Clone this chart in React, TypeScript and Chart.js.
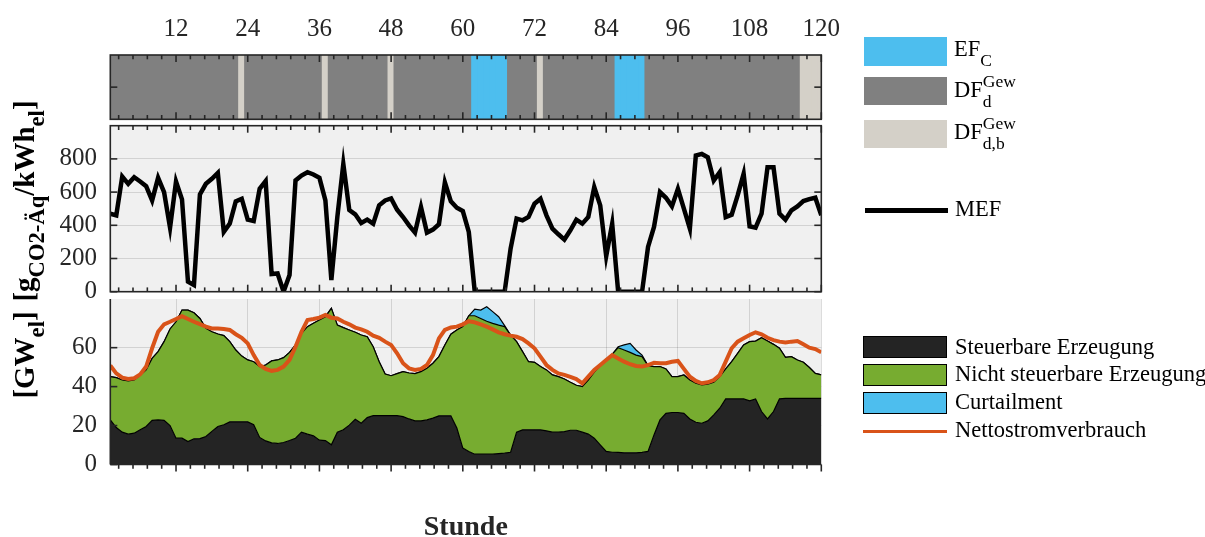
import React, { useEffect, useRef } from "react";
import { Chart, registerables } from "chart.js";

Chart.register(...registerables);

const SERIF = '"Liberation Serif", "Times New Roman", Times, serif';
const AXIS_COLOR = "#262626";
const GRID_COLOR = "rgba(38,38,38,0.15)";
const PANEL_BG = "#f0f0f0";
const C_GREY = "#808080";
const C_BEIGE = "#d4d0c8";
const C_BLUE = "#4dbeee";
const C_GREEN = "#77ac30";
const C_DARK = "#242424";
const C_ORANGE = "#d95319";

// Hour axis
const hours: number[] = Array.from({ length: 120 }, (_, i) => i + 1);
const hourTicks = [12, 24, 36, 48, 60, 72, 84, 96, 108, 120];
const mefTicks = [0, 200, 400, 600, 800];
const gwTicks = [0, 20, 40, 60];

// Hour classification of the band (all other hours: DF_d^Gew)
const efcHours = [62, 63, 64, 65, 66, 67, 86, 87, 88, 89, 90];
const dfdbHours = [23, 37, 48, 73, 117, 118, 119, 120];

// Marginal emission factor [g CO2-Äq / kWh_el]
const mef = [
  470, 460, 694, 650, 690, 664, 636, 550, 686, 600,
  386, 664, 556, 60, 40, 586, 650, 680, 716, 360,
  410, 544, 560, 434, 426, 620, 666, 106, 110, 0,
  100, 670, 700, 720, 706, 686, 550, 70, 450, 770,
  492, 466, 414, 434, 410, 520, 550, 562, 494, 450,
  400, 356, 510, 356, 374, 406, 658, 544, 506, 486,
  360, 0, 0, 0, 0, 0, 0, 260, 440, 430,
  450, 530, 560, 460, 380, 346, 314, 370, 434, 410,
  450, 630, 520, 214, 410, 0, 0, 0, 0, 0,
  270, 390, 600, 566, 514, 620, 500, 380, 820, 830,
  810, 670, 720, 450, 464, 580, 710, 394, 386, 470,
  750, 750, 470, 434, 490, 514, 546, 558, 566, 460,
];

// Generation [GW_el]
const steuerbar = [
  22.9, 19, 16.6, 15.6, 16.1, 17.8, 19.5, 22.7, 22.9, 22.7,
  20, 13.5, 13.5, 11.8, 13.2, 13.3, 14.4, 17, 19.5, 20.4,
  21.9, 21.9, 21.9, 21.9, 20.4, 13.9, 12.1, 11.1, 10.8, 11.3,
  12.3, 13.5, 16.6, 15.6, 14.7, 12.5, 12.3, 10.1, 16.6, 17.8,
  20.2, 23.2, 21.2, 24.1, 25.1, 25.1, 25.1, 25.1, 25.1, 24.6,
  23.4, 22.4, 22.4, 22.9, 23.8, 25, 25, 25, 18.7, 8.4,
  6.7, 5.3, 5.3, 5.3, 5.3, 5.6, 5.8, 6.3, 16.6, 17.8,
  17.8, 17.8, 17.8, 17.3, 16.6, 16.6, 16.9, 17.6, 17.6, 16.6,
  15.6, 13.5, 10.1, 6.7, 6.3, 6.2, 6, 6, 6, 6.2,
  6.7, 15.2, 22.9, 26.3, 26.7, 26.7, 26.3, 23.4, 21.7, 21.2,
  22.4, 25.5, 28.9, 33.7, 33.7, 33.7, 33.7, 32.7, 33.7, 27.2,
  23.4, 27.2, 33.7, 34, 34, 34, 34, 34, 34, 34,
];

const nichtSteuerbar = [
  22.2, 25.6, 26.8, 27.3, 27.3, 28.2, 29.1, 31.8, 35.1, 40.4,
  49.6, 59.8, 65.8, 67.5, 64.7, 61.7, 55.5, 51.2, 47.5, 45.8,
  41.2, 36.9, 33.8, 31.8, 32.4, 36.4, 39, 42.1, 42.9, 43.6,
  45.3, 47.9, 50.8, 55.2, 57.8, 61.7, 63.6, 70.1, 55, 52.5,
  48.9, 44.7, 45.3, 41.5, 35.4, 27.7, 21.4, 20.5, 21.6, 23.1,
  23.6, 24.3, 25.3, 26.5, 28.2, 30.4, 36.4, 41.9, 50.4, 62.4,
  69.7, 71.1, 69.7, 68.3, 67.2, 66, 65, 60.2, 46.5, 40.2,
  35, 34.7, 32.5, 31.3, 29.4, 28.5, 27, 24.6, 23.1, 23.4,
  27.8, 33.9, 40.7, 47, 50.3, 53.8, 52.8, 51.6, 50.2, 49.2,
  44.1, 35.1, 27.4, 22.8, 18.4, 18.4, 19.7, 20, 20, 19.7,
  18.8, 16.7, 16.2, 15.4, 19.1, 23.4, 27.7, 30.4, 29.7, 37.9,
  40, 34.5, 26, 21, 21.4, 19.7, 18.5, 15.8, 12.8, 12,
];

const curtailment = [
  0, 0, 0, 0, 0, 0, 0, 0, 0, 0,
  0, 0, 0, 0, 0, 0, 0, 0, 0, 0,
  0, 0, 0, 0, 0, 0, 0, 0, 0, 0,
  0, 0, 0, 0, 0, 0, 0, 0, 0, 0,
  0, 0, 0, 0, 0, 0, 0, 0, 0, 0,
  0, 0, 0, 0, 0, 0, 0, 0, 0, 0,
  0, 3.4, 4.3, 7.4, 6, 4.3, 0.5, 0, 0, 0,
  0, 0, 0, 0, 0, 0, 0, 0, 0, 0,
  0, 0, 0, 0, 0, 0.5, 2.6, 4.6, 2.6, 0.8,
  0, 0, 0, 0, 0, 0, 0, 0, 0, 0,
  0, 0, 0, 0, 0, 0, 0, 0, 0, 0,
  0, 0, 0, 0, 0, 0, 0, 0, 0, 0,
];

const nettoverbrauch = [
  50.8, 46.8, 44.6, 43.9, 44.3, 46.3, 50.3, 59.7, 68.2, 72,
  73.3, 74.7, 76.2, 74.7, 73.3, 72.1, 70.8, 69.9, 69.9, 69.6,
  69.1, 66.9, 65.1, 62.2, 56.2, 51.1, 49.1, 48.1, 48.6, 50.3,
  53.7, 60.5, 68.2, 74.2, 74.7, 75.4, 76.8, 75.4, 75, 73.3,
  72, 70.3, 69.4, 68.2, 66.2, 65.1, 63.1, 61.4, 57.1, 52,
  49.4, 48.6, 49.1, 51.1, 56.2, 64.8, 69.1, 70.4, 70.8, 72,
  73.6, 73, 72, 70.8, 69.4, 67.9, 66.9, 66.2, 65.6, 64.4,
  62.2, 59.7, 55.4, 51.1, 48.6, 46.8, 46, 45, 43.9, 41.7,
  45.1, 48.6, 51.1, 53.7, 56.2, 54.5, 52.8, 51.5, 50.6, 50.3,
  51.1, 52.3, 52, 52, 52.8, 53.2, 49.1, 45.1, 42.9, 41.7,
  42.2, 43.4, 46, 52.8, 59.7, 63.1, 64.8, 66.5, 67.9, 66.9,
  65.1, 63.9, 63.1, 62.7, 63.1, 63.4, 61.7, 60, 59.3, 57.6,
];

// Layout of the three stacked panels (page pixels)
const PAGE_W = 1205;
const PLOT_LEFT = 110.3;
const PLOT_RIGHT = 821.3;
const TICK_FONT = 25;

const bandColor = (h: number) =>
  efcHours.includes(h) ? C_BLUE : dfdbHours.includes(h) ? C_BEIGE : C_GREY;

const xy = (values: number[]) => hours.map((h, i) => ({ x: h, y: values[i] }));

const setTicks = (values: number[]) => (s: any) => {
  s.ticks = values.map((v) => ({ value: v }));
};

// Panel background, inner tick marks and axis frame
const panelFrame = {
  id: "panelFrame",
  beforeDraw(chart: any, _args: any, o: any) {
    if (!o || !o.background) return;
    const { ctx, chartArea: a } = chart;
    ctx.save();
    ctx.fillStyle = o.background;
    ctx.fillRect(a.left, a.top, a.right - a.left, a.bottom - a.top);
    ctx.restore();
  },
  afterDatasetsDraw(chart: any, _args: any, o: any) {
    if (!o) return;
    const { ctx, chartArea: a, scales } = chart;
    const xs = scales.x;
    const ys = scales.y;
    const MAJ = 7;
    const MIN = 4.3;
    ctx.save();
    ctx.strokeStyle = AXIS_COLOR;
    ctx.lineWidth = 1.6;
    const line = (x1: number, y1: number, x2: number, y2: number) => {
      ctx.beginPath();
      ctx.moveTo(x1, y1);
      ctx.lineTo(x2, y2);
      ctx.stroke();
    };
    const xTick = (v: number, len: number) => {
      const px = xs.getPixelForValue(v);
      if (o.xTicks === "out") {
        line(px, a.bottom, px, a.bottom + len);
      } else {
        line(px, a.bottom, px, a.bottom - len);
        line(px, a.top, px, a.top + len);
      }
    };
    hourTicks.forEach((v) => xTick(v, MAJ));
    for (let k = 1; k * 2.4 < 120; k++) if (k % 5 !== 0) xTick(k * 2.4, MIN);
    (o.yTicks || []).forEach((v: number) => {
      const py = ys.getPixelForValue(v);
      line(a.left, py, a.left + MAJ, py);
      if (o.box) line(a.right, py, a.right - MAJ, py);
    });
    if (o.box) {
      ctx.strokeRect(a.left, a.top, a.right - a.left, a.bottom - a.top);
    } else {
      line(a.left, a.top, a.left, a.bottom);
      line(a.left, a.bottom, a.right, a.bottom);
    }
    ctx.restore();
  },
};

const baseOptions = {
  responsive: false,
  animation: false as const,
  events: [] as any[],
};

const noPad = (s: any) => {
  s.paddingLeft = 0;
  s.paddingRight = 0;
  s.paddingTop = 0;
  s.paddingBottom = 0;
};

function bandConfig(): any {
  const colors = hours.map(bandColor);
  return {
    type: "bar",
    data: {
      datasets: [
        {
          label: "Klassifizierung",
          data: hours.map((h) => ({ x: h, y: 1 })),
          backgroundColor: colors,
          borderColor: colors,
          borderWidth: 0,
          inflateAmount: 0.6,
          categoryPercentage: 1,
          barPercentage: 1,
          clip: 0,
        },
      ],
    },
    options: {
      ...baseOptions,
      layout: { padding: { left: PLOT_LEFT, right: PAGE_W - PLOT_RIGHT, top: 0, bottom: 122 - 119.3 } },
      plugins: {
        legend: { display: false },
        tooltip: { enabled: false },
        panelFrame: { box: true, yTicks: [0.5], xTicks: "in" },
      },
      scales: {
        x: {
          type: "linear",
          position: "top",
          min: 1,
          max: 120,
          offset: false,
          grid: { display: false, drawTicks: false },
          border: { display: false },
          ticks: {
            font: { family: SERIF, size: TICK_FONT },
            color: AXIS_COLOR,
            padding: 10.5,
            maxRotation: 0,
            autoSkip: false,
          },
          afterBuildTicks: setTicks(hourTicks),
          afterFit: (s: any) => {
            s.height = 55;
            noPad(s);
          },
        },
        y: { display: false, min: 0, max: 1 },
      },
    },
    plugins: [panelFrame],
  };
}

function mefConfig(): any {
  return {
    type: "line",
    data: {
      datasets: [
        {
          label: "MEF",
          data: xy(mef),
          borderColor: "#000000",
          borderWidth: 4.5,
          pointRadius: 0,
          tension: 0,
          fill: false,
        },
      ],
    },
    options: {
      ...baseOptions,
      layout: { padding: { left: 0, right: PAGE_W - PLOT_RIGHT, top: 3.7, bottom: 190 - 169.7 } },
      plugins: {
        legend: { display: false },
        tooltip: { enabled: false },
        panelFrame: { background: PANEL_BG, box: true, yTicks: mefTicks, xTicks: "in" },
      },
      scales: {
        x: { type: "linear", display: false, min: 1, max: 120 },
        y: {
          min: 0,
          max: 1000,
          grid: { color: GRID_COLOR, drawTicks: false, lineWidth: 1 },
          border: { display: false },
          ticks: { font: { family: SERIF, size: TICK_FONT }, color: AXIS_COLOR, padding: 13.3 },
          afterBuildTicks: setTicks(mefTicks),
          afterFit: (s: any) => {
            s.width = PLOT_LEFT;
            noPad(s);
          },
        },
      },
    },
    plugins: [panelFrame],
  };
}

function powerConfig(): any {
  const area = (label: string, values: number[], color: string, fill: any) => ({
    label,
    data: xy(values),
    backgroundColor: color,
    borderColor: "#000000",
    borderWidth: 1.2,
    pointRadius: 0,
    tension: 0,
    fill,
    stack: "erzeugung",
  });
  return {
    type: "line",
    data: {
      datasets: [
        {
          label: "Nettostromverbrauch",
          data: xy(nettoverbrauch),
          borderColor: C_ORANGE,
          borderWidth: 4,
          pointRadius: 0,
          tension: 0,
          fill: false,
          stack: "verbrauch",
        },
        area("Steuerbare Erzeugung", steuerbar, C_DARK, "origin"),
        area("Nicht steuerbare Erzeugung", nichtSteuerbar, C_GREEN, "-1"),
        area("Curtailment", curtailment, C_BLUE, "-1"),
      ],
    },
    options: {
      ...baseOptions,
      layout: { padding: { left: 0, right: PAGE_W - PLOT_RIGHT, top: 3, bottom: 0 } },
      plugins: {
        legend: { display: false },
        tooltip: { enabled: false },
        panelFrame: { background: PANEL_BG, box: false, yTicks: gwTicks, xTicks: "out" },
      },
      scales: {
        x: {
          type: "linear",
          min: 1,
          max: 120,
          offset: false,
          grid: { color: GRID_COLOR, drawTicks: false, lineWidth: 1 },
          border: { display: false },
          ticks: { display: false },
          title: {
            display: true,
            text: "Stunde",
            color: AXIS_COLOR,
            font: { family: SERIF, size: 28, weight: "bold", lineHeight: 0.67 },
            padding: 0,
          },
          afterBuildTicks: setTicks(hourTicks),
          afterFit: (s: any) => {
            s.height = 72.5;
            noPad(s);
          },
        },
        y: {
          min: 0,
          max: 85,
          stacked: true,
          grid: { color: GRID_COLOR, drawTicks: false, lineWidth: 1 },
          border: { display: false },
          ticks: { font: { family: SERIF, size: TICK_FONT }, color: AXIS_COLOR, padding: 13.3 },
          afterBuildTicks: setTicks(gwTicks),
          afterFit: (s: any) => {
            s.width = PLOT_LEFT;
            noPad(s);
          },
        },
      },
    },
    plugins: [panelFrame],
  };
}

const LEG = 22.5;

function Sub({ children, drop = 0.57, scale = 0.78 }: any) {
  return (
    <span style={{ position: "relative", top: `${drop}em`, fontSize: `${scale}em` }}>{children}</span>
  );
}

function SupSub({ sup, sub }: any) {
  return (
    <span style={{ display: "inline-block", position: "relative", fontSize: "0.78em", lineHeight: 1 }}>
      <span style={{ position: "relative", top: "-0.57em" }}>{sup}</span>
      <span style={{ position: "absolute", left: 0, top: "0.57em", whiteSpace: "nowrap" }}>{sub}</span>
    </span>
  );
}

function LegendText({ x, base, children }: any) {
  return (
    <div
      style={{
        position: "absolute",
        left: x,
        top: base - 0.8375 * LEG,
        fontSize: LEG,
        lineHeight: 1,
        whiteSpace: "nowrap",
      }}
    >
      {children}
    </div>
  );
}

function Swatch({ x, y, w, h, color, border }: any) {
  return (
    <div
      style={{
        position: "absolute",
        left: x,
        top: y,
        width: w,
        height: h,
        background: color,
        border: border ? "1.3px solid #000" : "none",
        boxSizing: "border-box",
      }}
    />
  );
}

function AxisTitle({ cx, cy, children }: any) {
  return (
    <div
      style={{
        position: "absolute",
        left: cx,
        top: cy,
        transform: "translate(-50%, -50%) rotate(-90deg)",
        fontSize: 29,
        fontWeight: "bold",
        lineHeight: 1,
        whiteSpace: "nowrap",
        color: "#000",
      }}
    >
      {children}
    </div>
  );
}

export default function App() {
  const bandRef = useRef<HTMLCanvasElement>(null);
  const mefRef = useRef<HTMLCanvasElement>(null);
  const powerRef = useRef<HTMLCanvasElement>(null);

  useEffect(() => {
    const charts = [
      new Chart(bandRef.current as HTMLCanvasElement, bandConfig()),
      new Chart(mefRef.current as HTMLCanvasElement, mefConfig()),
      new Chart(powerRef.current as HTMLCanvasElement, powerConfig()),
    ];
    return () => charts.forEach((c) => c.destroy());
  }, []);

  return (
    <div
      style={{
        position: "absolute",
        left: 0,
        top: 0,
        width: PAGE_W,
        height: 537,
        background: "#ffffff",
        overflow: "hidden",
        fontFamily: SERIF,
        color: "#000",
      }}
    >
      <canvas ref={bandRef} width={PAGE_W} height={122} style={{ position: "absolute", left: 0, top: 0 }} />
      <canvas ref={mefRef} width={PAGE_W} height={190} style={{ position: "absolute", left: 0, top: 122 }} />
      <canvas ref={powerRef} width={PAGE_W} height={241} style={{ position: "absolute", left: 0, top: 296 }} />

      <AxisTitle cx={23.5} cy={201}>
        [g<Sub drop={0.45}>CO2-Äq</Sub>/kWh<Sub drop={0.45}>el</Sub>]
      </AxisTitle>
      <AxisTitle cx={23.5} cy={355}>
        [GW<Sub drop={0.45}>el</Sub>]
      </AxisTitle>

      <Swatch x={864} y={37} w={83} h={29} color={C_BLUE} />
      <LegendText x={954} base={56.7}>
        EF<Sub>C</Sub>
      </LegendText>
      <Swatch x={864} y={77} w={83} h={28} color={C_GREY} />
      <LegendText x={954} base={98.3}>
        DF<SupSub sup="Gew" sub="d" />
      </LegendText>
      <Swatch x={864} y={120} w={83} h={28} color={C_BEIGE} />
      <LegendText x={954} base={140}>
        DF<SupSub sup="Gew" sub="d,b" />
      </LegendText>
      <Swatch x={865} y={207.5} w={83} h={5} color="#000000" />
      <LegendText x={955} base={216.7}>
        MEF
      </LegendText>

      <Swatch x={863} y={336} w={84} h={22} color={C_DARK} border />
      <LegendText x={955} base={355}>
        Steuerbare Erzeugung
      </LegendText>
      <Swatch x={863} y={364} w={84} h={22} color={C_GREEN} border />
      <LegendText x={955} base={381.7}>
        Nicht steuerbare Erzeugung
      </LegendText>
      <Swatch x={863} y={392} w={84} h={21.5} color={C_BLUE} border />
      <LegendText x={955} base={410}>
        Curtailment
      </LegendText>
      <Swatch x={863} y={429.5} w={84} h={3.5} color={C_ORANGE} />
      <LegendText x={955} base={438.3}>
        Nettostromverbrauch
      </LegendText>
    </div>
  );
}
